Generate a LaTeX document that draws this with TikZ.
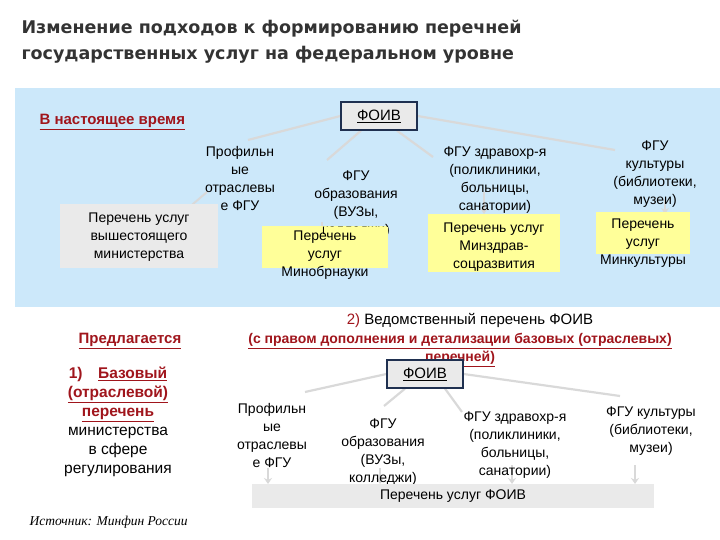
\documentclass[tikz,border=0pt]{standalone}
\usepackage{fontspec}
\setmainfont{Liberation Sans}
\newfontfamily\titlefont{DejaVu Sans}
\newfontfamily\serifit{Liberation Serif}
\usetikzlibrary{arrows.meta}
\pgfdeclarelayer{bgl}\pgfdeclarelayer{lin}
\pgfsetlayers{bgl,lin,main}
\definecolor{skyb}{HTML}{CCE8FA}
\definecolor{dred}{HTML}{A0151C}
\definecolor{ylw}{HTML}{FFFF99}
\definecolor{lgr}{HTML}{EAEAEA}
\definecolor{navy}{HTML}{1F3050}
\tikzset{
 txt/.style={align=center,font=\fontsize{14}{18}\selectfont,inner sep=0pt},
 foiv/.style={draw=navy,line width=1.3pt,fill=lgr,minimum width=76pt,minimum height=28pt,font=\fontsize{15}{17}\selectfont},
 ybox/.style={fill=ylw,inner sep=0pt},
 gbox/.style={fill=lgr,inner sep=0pt},
 conn/.style={draw=gray!30,line width=2.2pt},
 arr/.style={draw=gray!30,line width=2pt,-{Stealth[length=6pt,width=8pt]}},
 red/.style={text=dred,font=\fontsize{15}{18}\selectfont\bfseries}
}
\begin{document}
\begin{tikzpicture}[x=1pt,y=-1pt]
\useasboundingbox (0,0) rectangle (720,540);
\begin{pgfonlayer}{bgl}
\fill[skyb] (15,88) rectangle (720,307);
\end{pgfonlayer}
\node[anchor=west,font=\titlefont\fontsize{17.5}{26}\selectfont\bfseries,text=black!80,align=left] (title) at (18,42) {Изменение подходов к формированию перечней\\государственных услуг на федеральном уровне};
% top part
\node[foiv] (f1) at (379,116) {\underline{ФОИВ}};
\node[red,anchor=west] (now) at (36,122) {\underline{В настоящее время}};
\node[gbox,minimum width=158pt,minimum height=63pt] (g1) at (139,236) {};
\node[txt] (g1t) at (139,237) {Перечень услуг\\вышестоящего\\министерства};
\node[ybox,minimum width=126pt,minimum height=42pt] (y1) at (325,247) {};
\node[ybox,minimum width=132pt,minimum height=58pt] (y2) at (494,243) {};
\node[ybox,minimum width=94pt,minimum height=42pt] (y3) at (643,233) {};
\node[txt] (h1) at (240,178) {Профильн\\ые\\отраслевы\\е ФГУ};
\node[txt] (h2) at (356,204) {ФГУ\\образования\\(ВУЗы,\\колледжи)};
\node[ybox,minimum width=64pt,minimum height=12pt] (y1b) at (356,233) {};
\node[txt] (y1t) at (325,255) {Перечень\\услуг\\Минобрнауки};
\node[txt] (h3) at (495,180) {ФГУ здравохр-я\\(поликлиники,\\больницы,\\санатории)};
\node[txt] (y2t) at (494,247) {Перечень услуг\\Минздрав-\\соцразвития};
\node[txt] (h4) at (655,174) {ФГУ\\культуры\\(библиотеки,\\музеи)};
\node[txt] (y3t) at (643,243) {Перечень\\услуг\\Минкультуры};
\begin{pgfonlayer}{lin}
\draw[conn] (f1.west) -- (248,140);
\draw[conn] ([xshift=-18pt]f1.south) -- (327,160);
\draw[conn] ([xshift=18pt]f1.south) -- (433,157);
\draw[conn] (f1.east) -- (615,150);
\draw[arr] (207,192) -- (172,222);
\draw[arr] (322,222) -- (322,235);
\draw[arr] (484,192) -- (484,214);
\draw[arr] (665,200) -- (665,214);
\end{pgfonlayer}
% bottom part
\node[txt,font=\fontsize{15}{17}\selectfont] (led) at (470,320) {\textcolor{dred}{2)} Ведомственный перечень ФОИВ};
\node[red,align=center,font=\fontsize{14}{18}\selectfont\bfseries] (sub) at (460,350) {\underline{(с правом дополнения и детализации базовых (отраслевых)}\\\underline{перечней)}};
\node[red] (pred) at (130,341) {\underline{Предлагается}};
\node[align=center,font=\fontsize{15.5}{19}\selectfont,inner sep=0pt] (base) at (118,422) {\textcolor{dred}{\bfseries 1)\quad\underline{Базовый}}\\\textcolor{dred}{\bfseries\underline{(отраслевой)}}\\\textcolor{dred}{\bfseries\underline{перечень}}\\министерства\\в сфере\\регулирования};
\node[foiv] (f2) at (425,374) {\underline{ФОИВ}};
\node[txt] (b1) at (272,435) {Профильн\\ые\\отраслевы\\е ФГУ};
\node[txt] (b2) at (383,452) {ФГУ\\образования\\(ВУЗы,\\колледжи)};
\node[txt] (b3) at (515,445) {ФГУ здравохр-я\\(поликлиники,\\больницы,\\санатории)};
\node[txt] (b4) at (651,431) {ФГУ культуры\\(библиотеки,\\музеи)};
\node[gbox,minimum width=402pt,minimum height=24pt,font=\fontsize{14}{16}\selectfont] (fl) at (453,496) {Перечень услуг ФОИВ};
\begin{pgfonlayer}{lin}
\draw[conn] (f2.west) -- (305,392);
\draw[conn] ([xshift=-20pt]f2.south) -- (384,406);
\draw[conn] ([xshift=20pt]f2.south) -- (462,412);
\draw[conn] (f2.east) -- (620,396);
\draw[arr] (268,468) -- (268,484);
\draw[arr] (380,468) -- (380,484);
\draw[arr] (512,465) -- (512,484);
\draw[arr] (635,465) -- (635,484);
\end{pgfonlayer}
\node[anchor=west,font=\serifit\itshape\fontsize{13.5}{15}\selectfont] (src) at (26,522) {Источник: Минфин России};
\end{tikzpicture}
\end{document}
